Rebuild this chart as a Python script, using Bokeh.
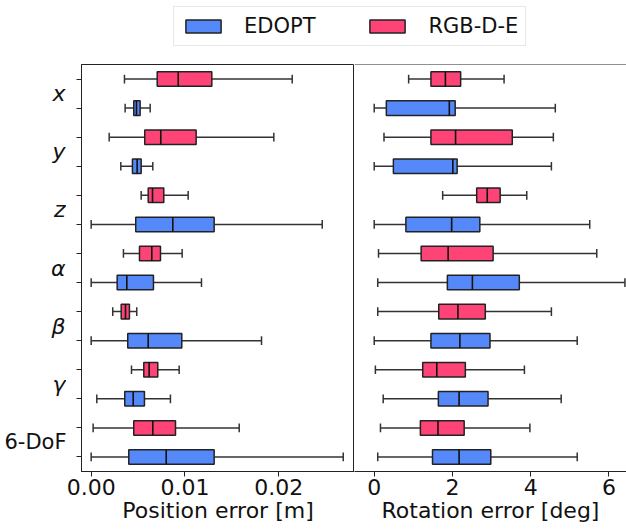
from bokeh.plotting import figure
from bokeh.models import Range1d, FixedTicker, Legend, LegendItem, Span, ColumnDataSource
from bokeh.layouts import column, row
from bokeh.embed import file_html
from bokeh.resources import INLINE
from bokeh.core.properties import value

# ---------------- data ----------------
categories = ["x", "y", "z", "α", "β", "γ", "6-DoF"]
italic_labels = [True, True, True, True, True, True, False]
methods = ["EDOPT", "RGB-D-E"]

# Position error [m] - RGB-D-E
pos_rgb_lo = [0.00355, 0.00192, 0.00533, 0.00344, 0.00230, 0.00430, 0.00021]
pos_rgb_q1 = [0.00704, 0.00571, 0.00608, 0.00515, 0.00320, 0.00561, 0.00454]
pos_rgb_med = [0.00928, 0.00742, 0.00654, 0.00646, 0.00366, 0.00618, 0.00657]
pos_rgb_q3 = [0.01286, 0.01119, 0.00774, 0.00739, 0.00408, 0.00710, 0.00899]
pos_rgb_hi = [0.02143, 0.01947, 0.01034, 0.00970, 0.00486, 0.00938, 0.01578]

# Position error [m] - EDOPT
pos_ed_lo = [0.00362, 0.00316, 0.00000, 0.00000, 0.00000, 0.00060, 0.00000]
pos_ed_q1 = [0.00454, 0.00440, 0.00475, 0.00277, 0.00390, 0.00358, 0.00401]
pos_ed_med = [0.00483, 0.00490, 0.00870, 0.00380, 0.00608, 0.00448, 0.00800]
pos_ed_q3 = [0.00522, 0.00533, 0.01311, 0.00664, 0.00966, 0.00568, 0.01311]
pos_ed_hi = [0.00629, 0.00657, 0.02463, 0.01176, 0.01816, 0.00845, 0.02687]

# Rotation error [deg] - RGB-D-E
rot_rgb_lo = [0.88, 0.25, 1.75, 0.11, 0.09, 0.03, 0.16]
rot_rgb_q1 = [1.45, 1.45, 2.62, 1.20, 1.65, 1.24, 1.18]
rot_rgb_med = [1.82, 2.08, 2.89, 1.89, 2.14, 1.60, 1.63]
rot_rgb_q3 = [2.21, 3.53, 3.22, 3.04, 2.84, 2.33, 2.30]
rot_rgb_hi = [3.32, 4.58, 3.90, 5.69, 4.53, 3.84, 3.98]

# Rotation error [deg] - EDOPT
rot_ed_lo = [0.00, 0.00, 0.00, 0.09, 0.00, 0.23, 0.09]
rot_ed_q1 = [0.31, 0.49, 0.81, 1.87, 1.45, 1.64, 1.49]
rot_ed_med = [1.92, 2.01, 1.98, 2.51, 2.19, 2.17, 2.17]
rot_ed_q3 = [2.07, 2.12, 2.70, 3.71, 2.96, 2.91, 2.98]
rot_ed_hi = [4.63, 4.53, 5.51, 6.41, 5.19, 4.78, 5.19]

pos_ticks = [0.0, 0.01, 0.02]
pos_tick_labels = ["0.00", "0.01", "0.02"]
rot_ticks = [0, 2, 4, 6]
rot_tick_labels = ["0", "2", "4", "6"]

# ---------------- style ----------------
BLUE = "#5588f8"
PINK = "#fe4477"
EDGE = "#222222"
FONT = "DejaVu Sans"
FRAME_H = 407
TOP = 12
STRIP_W = 66

n = len(categories)
rows_rgb = [2 * i + 1 for i in range(n)]
rows_ed = [2 * i + 2 for i in range(n)]


def draw_boxes(p, ys, lo, q1, med, q3, hi, color):
    src = ColumnDataSource(dict(
        y=ys, lo=lo, q1=q1, med=med, q3=q3, hi=hi,
        ylo=[v - 0.15 for v in ys], yhi=[v + 0.15 for v in ys],
        blo=[v - 0.25 for v in ys], bhi=[v + 0.25 for v in ys],
    ))
    p.segment(x0="lo", y0="y", x1="q1", y1="y", source=src, line_color="#333333", line_width=1.5)
    p.segment(x0="q3", y0="y", x1="hi", y1="y", source=src, line_color="#333333", line_width=1.5)
    p.segment(x0="lo", y0="ylo", x1="lo", y1="yhi", source=src, line_color="#333333", line_width=1.5)
    p.segment(x0="hi", y0="ylo", x1="hi", y1="yhi", source=src, line_color="#333333", line_width=1.5)
    p.hbar(y="y", left="q1", right="q3", height=0.5, source=src,
           fill_color=color, line_color=EDGE, line_width=1.5)
    p.segment(x0="med", y0="blo", x1="med", y1="bhi", source=src, line_color="#111111", line_width=1.6)


def style_xaxis(p, ticks, labels, title):
    ax = p.xaxis[0]
    ax.ticker = FixedTicker(ticks=ticks)
    ax.major_label_overrides = {t: l for t, l in zip(ticks, labels)}
    ax.axis_label = title
    ax.axis_label_text_font = FONT
    ax.axis_label_text_font_size = "22px"
    ax.axis_label_text_font_style = "normal"
    ax.axis_label_text_color = "#111111"
    ax.axis_label_standoff = 0
    ax.major_label_text_font = FONT
    ax.major_label_text_font_size = "22px"
    ax.major_label_text_color = "#111111"
    ax.major_label_standoff = 2
    ax.major_tick_out = 5
    ax.major_tick_in = 0
    ax.minor_tick_line_color = None
    ax.axis_line_color = EDGE
    ax.major_tick_line_color = EDGE


y_rng = Range1d(14.5, 0.5)

# ---------------- category label strip (left) ----------------
pl = figure(frame_width=STRIP_W, frame_height=FRAME_H, x_range=Range1d(0, STRIP_W), y_range=y_rng,
            toolbar_location=None, output_backend="svg",
            x_axis_location=None, y_axis_location=None,
            min_border_left=0, min_border_right=0, min_border_top=TOP, min_border_bottom=0)
pl.grid.visible = False
pl.outline_line_color = None
mid = [(a + b) / 2 for a, b in zip(rows_rgb, rows_ed)]
it_idx = [i for i in range(n) if italic_labels[i]]
up_idx = [i for i in range(n) if not italic_labels[i]]
pl.text(x=[STRIP_W - 1] * len(it_idx), y=[mid[i] for i in it_idx], text=[categories[i] for i in it_idx],
        text_align="right", text_baseline="middle", text_font=value(FONT),
        text_font_size="22px", text_font_style="italic", text_color="#111111")
pl.text(x=[STRIP_W] * len(up_idx), y=[mid[i] for i in up_idx], text=[categories[i] for i in up_idx],
        text_align="right", text_baseline="middle", text_font=value(FONT),
        text_font_size="21px", text_font_style="normal", text_color="#111111")

# ---------------- left panel ----------------
p1 = figure(frame_width=273, frame_height=FRAME_H, x_range=Range1d(-0.00103, 0.02807), y_range=y_rng,
            toolbar_location=None, output_backend="svg",
            min_border_left=81 - STRIP_W, min_border_right=0, min_border_top=TOP, min_border_bottom=0)
p1.grid.visible = False
p1.outline_line_color = EDGE
draw_boxes(p1, rows_rgb, pos_rgb_lo, pos_rgb_q1, pos_rgb_med, pos_rgb_q3, pos_rgb_hi, PINK)
draw_boxes(p1, rows_ed, pos_ed_lo, pos_ed_q1, pos_ed_med, pos_ed_q3, pos_ed_hi, BLUE)
style_xaxis(p1, pos_ticks, pos_tick_labels, "Position error [m]")
yax = p1.yaxis[0]
yax.ticker = FixedTicker(ticks=rows_rgb + rows_ed)
yax.major_label_overrides = {r: "" for r in rows_rgb + rows_ed}
yax.major_label_text_font_size = "1px"
yax.major_label_standoff = 0
yax.major_tick_out = 5
yax.major_tick_in = 0
yax.minor_tick_line_color = None
yax.axis_line_color = EDGE
yax.major_tick_line_color = EDGE

# ---------------- right panel ----------------
p2 = figure(frame_width=272, frame_height=FRAME_H, x_range=Range1d(-0.504, 6.45), y_range=y_rng,
            toolbar_location=None, output_backend="svg", y_axis_location=None,
            min_border_left=0, min_border_right=0, min_border_top=TOP, min_border_bottom=0)
p2.grid.visible = False
p2.outline_line_color = None
draw_boxes(p2, rows_rgb, rot_rgb_lo, rot_rgb_q1, rot_rgb_med, rot_rgb_q3, rot_rgb_hi, PINK)
draw_boxes(p2, rows_ed, rot_ed_lo, rot_ed_q1, rot_ed_med, rot_ed_q3, rot_ed_hi, BLUE)
style_xaxis(p2, rot_ticks, rot_tick_labels, "Rotation error [deg]")
p2.add_layout(Span(location=0.5, dimension="width", line_color=EDGE, line_width=1))

# ---------------- legend strip ----------------
lf = figure(width=626, height=52, x_range=Range1d(0, 1), y_range=Range1d(0, 1),
            toolbar_location=None, output_backend="svg",
            x_axis_location=None, y_axis_location=None, min_border=0)
lf.grid.visible = False
lf.outline_line_color = None
r_ed = lf.rect(x=[-5], y=[-5], width=0.1, height=0.1, fill_color=BLUE, line_color=EDGE, line_width=1.5)
r_rgb = lf.rect(x=[-5], y=[-5], width=0.1, height=0.1, fill_color=PINK, line_color=EDGE, line_width=1.5)
leg = Legend(items=[LegendItem(label=methods[0], renderers=[r_ed]),
                    LegendItem(label=methods[1], renderers=[r_rgb])],
             orientation="horizontal", location=(173, 6), margin=0, padding=7,
             spacing=50, label_standoff=19, glyph_width=44, glyph_height=16,
             label_text_font=FONT, label_text_font_size="21px", label_text_color="#111111",
             label_text_baseline="middle",
             border_line_color="#d0d0d0", border_line_width=1, background_fill_color="white")
lf.add_layout(leg)

layout = column(lf, row(pl, p1, p2, spacing=0), spacing=0)

open("out.html", "w").write(file_html(layout, INLINE))
